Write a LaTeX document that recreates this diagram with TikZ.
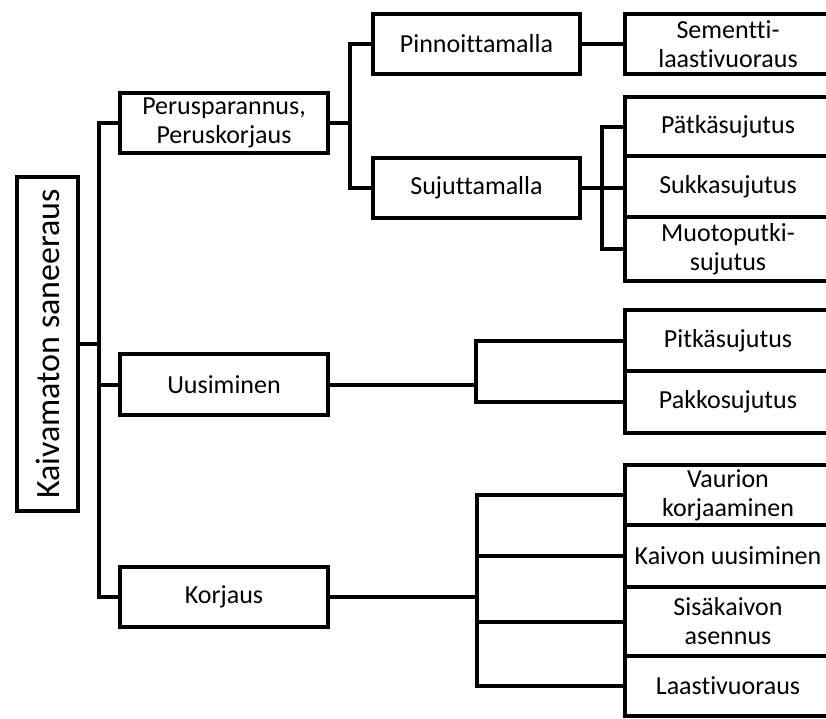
\documentclass[tikz,border=0pt]{standalone}
\usepackage{fontspec}
\setmainfont[Ligatures={NoCommon,NoRequired,NoContextual}]{Carlito}
\begin{document}
\begin{tikzpicture}[x=1pt,y=-1pt,
  box/.style={draw,line width=4pt,rectangle,inner sep=0pt,align=center,
    font=\fontsize{26}{29}\selectfont},
  lvl/.style={box,minimum width=208pt,minimum height=60pt},
  leaf/.style={box,minimum width=206pt},
  conn/.style={line width=4pt,line join=miter}]
\clip (0,0) rectangle (826,718);
% root
\node[box,minimum width=334pt,minimum height=61pt,rotate=90,
  font=\fontsize{34}{38}\selectfont] (root) at (47.5,344) {Kaivamaton saneeraus};
% level 1
\node[lvl] (perus) at (224,123) {Perusparannus,\\Peruskorjaus};
\node[lvl,minimum height=61pt] (uus) at (224,384.5) {Uusiminen};
\node[lvl] (korj) at (224,597) {Korjaus};
% level 2
\node[lvl,minimum width=207pt] (pinn) at (476.5,44) {Pinnoittamalla};
\node[lvl,minimum width=207pt] (suju) at (476.5,188) {Sujuttamalla};
% leaves
\node[leaf,minimum height=60pt] (seme) at (728,44) {Sementti-\\laastivuoraus};
\node[leaf,minimum height=59pt] (patka) at (728,126.5) {Pätkäsujutus};
\node[leaf,minimum height=61pt] (sukka) at (728,186.5) {Sukkasujutus};
\node[leaf,minimum height=64pt] (muoto) at (728,249) {Muotoputki-\\sujutus};
\node[leaf,minimum height=61pt] (pitka) at (728,340.5) {Pitkäsujutus};
\node[leaf,minimum height=62pt] (pakko) at (728,402) {Pakkosujutus};
\node[leaf,minimum height=60pt] (vaur) at (728,495) {Vaurion\\korjaaminen};
\node[leaf,minimum height=62pt] (kaiv) at (728,556) {Kaivon uusiminen};
\node[leaf,minimum height=69pt] (sisa) at (728,621.5) {Sisäkaivon\\asennus};
\node[leaf,minimum height=60pt] (laas) at (728,686) {Laastivuoraus};
% bus coordinates
\coordinate (b0) at (99,344);
\coordinate (b1) at (350,123);
\coordinate (b2) at (602,188);
\coordinate (b3) at (476,384.5);
\coordinate (b4) at (477,597);
% connectors
\draw[conn] (root.south) -- (b0);
\draw[conn] (perus.west) -| (b0) |- (korj.west);
\draw[conn] (uus.west) -- (uus.west -| b0);
\draw[conn] (perus.east) -- (b1);
\draw[conn] (pinn.west) -| (b1) |- (suju.west);
\draw[conn] (pinn.east) -- (seme.west);
\draw[conn] (suju.east) -- (suju.east -| sukka.west);
\draw[conn] (patka.west) -| (b2) |- (muoto.west);
\draw[conn] (uus.east) -- (b3);
\draw[conn] (pitka.west) -| (b3) |- (pakko.west);
\draw[conn] (korj.east) -- (b4);
\draw[conn] (vaur.west) -| (b4) |- (laas.west);
\draw[conn] (kaiv.west) -- (kaiv.west -| b4);
\draw[conn] (sisa.west) -- (sisa.west -| b4);
\end{tikzpicture}
\end{document}
